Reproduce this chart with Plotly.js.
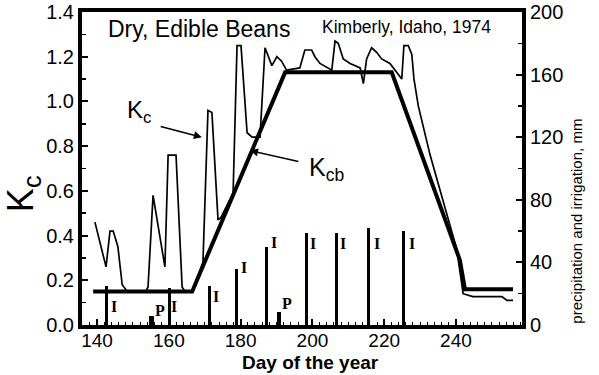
<!DOCTYPE html>
<html>
<head>
<meta charset="utf-8">
<script src="https://cdn.plot.ly/plotly-3.0.1.min.js"></script>
<style>
  html, body { margin: 0; padding: 0; background: #fff; }
  #chart { width: 599px; height: 375px; }
</style>
</head>
<body>
<div id="chart"></div>
<script>
// Day of year and Kc (actual crop coefficient, thin line)
const kcDays = [139.4, 142.5, 143.6, 144.5, 145.8, 147.0, 148.4, 153.6, 154.2, 155.6, 158.9, 159.8, 162.0, 163.7, 164.5, 166.5,
  169.5, 170.9, 172.0, 173.7, 174.5, 177.9, 179.0, 180.1, 181.8, 183.2, 185.4, 186.8, 188.7, 190.1, 191.4, 192.8,
  196.5, 197.9, 199.8, 200.7, 202.1, 204.4, 205.4, 206.3, 207.2, 208.6, 210.5, 213.3, 214.2, 215.1, 216.5, 217.9,
  219.3, 221.6, 223.0, 224.9, 225.5, 226.7, 227.7, 228.3, 229.5, 232.8, 236.5, 240.2, 242.0, 244.7, 252.8, 254.2, 255.9];
const kcValues = [0.46, 0.26, 0.42, 0.42, 0.35, 0.18, 0.15, 0.15, 0.17, 0.58, 0.26, 0.76, 0.76, 0.17, 0.15, 0.15,
  0.28, 0.96, 0.95, 0.47, 0.48, 0.59, 1.25, 1.25, 0.86, 0.84, 0.84, 1.24, 1.16, 1.20, 1.18, 1.14,
  1.15, 1.23, 1.23, 1.20, 1.17, 1.15, 1.14, 1.27, 1.26, 1.19, 1.17, 1.15, 1.08, 1.19, 1.24, 1.22,
  1.19, 1.17, 1.14, 1.10, 1.25, 1.25, 1.21, 1.10, 0.98, 0.76, 0.55, 0.34, 0.14, 0.127, 0.127, 0.11, 0.11];

// Basal crop coefficient Kcb (thick line)
const kcbDays = [138.9, 166.5, 192.4, 222.1, 241.1, 242.5, 255.9];
const kcbValues = [0.15, 0.15, 1.13, 1.13, 0.29, 0.16, 0.16];

// Precipitation (P) and irrigation (I) events, mm
const eventDays = [142.5, 155.2, 160.1, 171.2, 178.9, 187.3, 190.7, 198.4, 206.6, 215.6, 225.5];
const eventMM = [25, 6, 23.5, 25, 36, 50, 8, 59, 59, 62, 60];
const eventType = ['I', 'P', 'I', 'I', 'I', 'I', 'P', 'I', 'I', 'I', 'I'];

const xTicks = [140, 160, 180, 200, 220, 240];
const yTicks = [0, 0.2, 0.4, 0.6, 0.8, 1.0, 1.2, 1.4];
const yTickText = ['0.0', '0.2', '0.4', '0.6', '0.8', '1.0', '1.2', '1.4'];
const y2Ticks = [0, 40, 80, 120, 160, 200];

const sans = 'Liberation Sans, Arial, Helvetica, sans-serif';
const serif = 'Liberation Serif, Times New Roman, serif';

const traces = [
  {
    type: 'bar', x: eventDays, y: eventMM, yaxis: 'y2',
    width: eventType.map(t => t === 'P' ? 1.3 : 0.85),
    marker: { color: '#000', line: { width: 0 } },
    hoverinfo: 'skip', showlegend: false
  },
  {
    type: 'scatter', mode: 'lines', x: kcbDays, y: kcbValues,
    line: { color: '#000', width: 4 }, showlegend: false
  },
  {
    type: 'scatter', mode: 'lines', x: kcDays, y: kcValues,
    line: { color: '#000', width: 1.7 }, showlegend: false
  }
];

// I / P labels next to the event bars
const labelSpots = [
  { t: 'I', x: 144.6, y: 12 }, { t: 'P', x: 157.6, y: 9 }, { t: 'I', x: 161.5, y: 12 },
  { t: 'I', x: 173.0, y: 18.5 }, { t: 'I', x: 181.0, y: 37 }, { t: 'I', x: 189.4, y: 52.5 },
  { t: 'P', x: 193.0, y: 13.5 }, { t: 'I', x: 200.3, y: 52 }, { t: 'I', x: 208.6, y: 52 },
  { t: 'I', x: 218.1, y: 52 }, { t: 'I', x: 227.8, y: 52 }
];

const annotations = labelSpots.map(s => ({
  text: '<b>' + s.t + '</b>', x: s.x, y: s.y, xref: 'x', yref: 'y2',
  showarrow: false, font: { family: serif, size: 16, color: '#000' },
  xanchor: 'center', yanchor: 'middle'
}));

annotations.push(
  { text: 'Dry, Edible Beans', xref: 'paper', yref: 'paper', x: 0.055, y: 0.995,
    xanchor: 'left', yanchor: 'top', showarrow: false,
    font: { family: sans, size: 23, color: '#000' } },
  { text: 'Kimberly, Idaho, 1974', xref: 'paper', yref: 'paper', x: 0.54, y: 0.99,
    xanchor: 'left', yanchor: 'top', showarrow: false,
    font: { family: sans, size: 17.5, color: '#000' } },
  // Kc pointer
  { text: '', xref: 'x', yref: 'y', x: 169.2, y: 0.84, ax: 157.3, ay: 0.89,
    axref: 'x', ayref: 'y', showarrow: true, arrowhead: 2, arrowsize: 1, arrowwidth: 1.6,
    arrowcolor: '#000', standoff: 0, startstandoff: 0 },
  { text: 'K<sub>c</sub>', xref: 'x', yref: 'y', x: 151.8, y: 0.955,
    xanchor: 'center', yanchor: 'middle', showarrow: false,
    font: { family: sans, size: 24, color: '#000' } },
  // Kcb pointer
  { text: '', xref: 'x', yref: 'y', x: 182.6, y: 0.78, ax: 196.5, ay: 0.73,
    axref: 'x', ayref: 'y', showarrow: true, arrowhead: 2, arrowsize: 1, arrowwidth: 1.6,
    arrowcolor: '#000', standoff: 0, startstandoff: 0 },
  { text: 'K<sub>cb</sub>', xref: 'x', yref: 'y', x: 203.8, y: 0.70,
    xanchor: 'center', yanchor: 'middle', showarrow: false,
    font: { family: sans, size: 25, color: '#000' } },
  { text: 'K<sub>c</sub>', xref: 'paper', yref: 'paper', x: -0.135, y: 0.42,
    xanchor: 'center', yanchor: 'middle', textangle: -90, showarrow: false,
    font: { family: sans, size: 36, color: '#000' } },
  { text: 'precipitation and irrigation, mm', xref: 'paper', yref: 'paper', x: 1.125, y: 0.33,
    xanchor: 'center', yanchor: 'middle', textangle: -90, showarrow: false,
    font: { family: sans, size: 15, color: '#000' } },
  { text: '<b>Day of the year</b>', xref: 'paper', yref: 'paper', x: 0.52, y: -0.12,
    xanchor: 'center', yanchor: 'middle', showarrow: false,
    font: { family: sans, size: 19, color: '#000' } }
);

const layout = {
  width: 599, height: 375,
  margin: { l: 82, r: 77, t: 12, b: 50 },
  paper_bgcolor: '#fff', plot_bgcolor: '#fff',
  showlegend: false,
  bargap: 0,
  xaxis: {
    range: [135.8, 258.4], tickvals: xTicks, ticktext: xTicks.map(String),
    ticks: 'inside', ticklen: 6, tickwidth: 2, tickcolor: '#000', ticklabelstandoff: -5,
    minor: { dtick: 2, tick0: 140, ticks: 'inside', ticklen: 3, tickwidth: 1, tickcolor: '#000' },
    showgrid: false, zeroline: false, showline: true, linewidth: 4, linecolor: '#000', mirror: true,
    tickfont: { family: sans, size: 19, color: '#000' }
  },
  yaxis: {
    range: [0, 1.4], tickvals: yTicks, ticktext: yTickText,
    ticks: 'inside', ticklen: 6, tickwidth: 2, tickcolor: '#000',
    minor: { dtick: 0.1, tick0: 0, ticks: 'inside', ticklen: 4, tickwidth: 1.5, tickcolor: '#000' },
    showgrid: false, zeroline: false, showline: true, linewidth: 4, linecolor: '#000',
    tickfont: { family: sans, size: 20, color: '#000' }
  },
  yaxis2: {
    range: [0, 200], tickvals: y2Ticks, overlaying: 'y', side: 'right',
    ticks: 'inside', ticklen: 6, tickwidth: 2, tickcolor: '#000',
    minor: { dtick: 20, tick0: 0, ticks: 'inside', ticklen: 4, tickwidth: 1.5, tickcolor: '#000' },
    showgrid: false, zeroline: false, showline: true, linewidth: 4, linecolor: '#000',
    tickfont: { family: sans, size: 20, color: '#000' }
  },
  annotations: annotations
};

Plotly.newPlot('chart', traces, layout, { staticPlot: true, displayModeBar: false });
</script>
</body>
</html>
